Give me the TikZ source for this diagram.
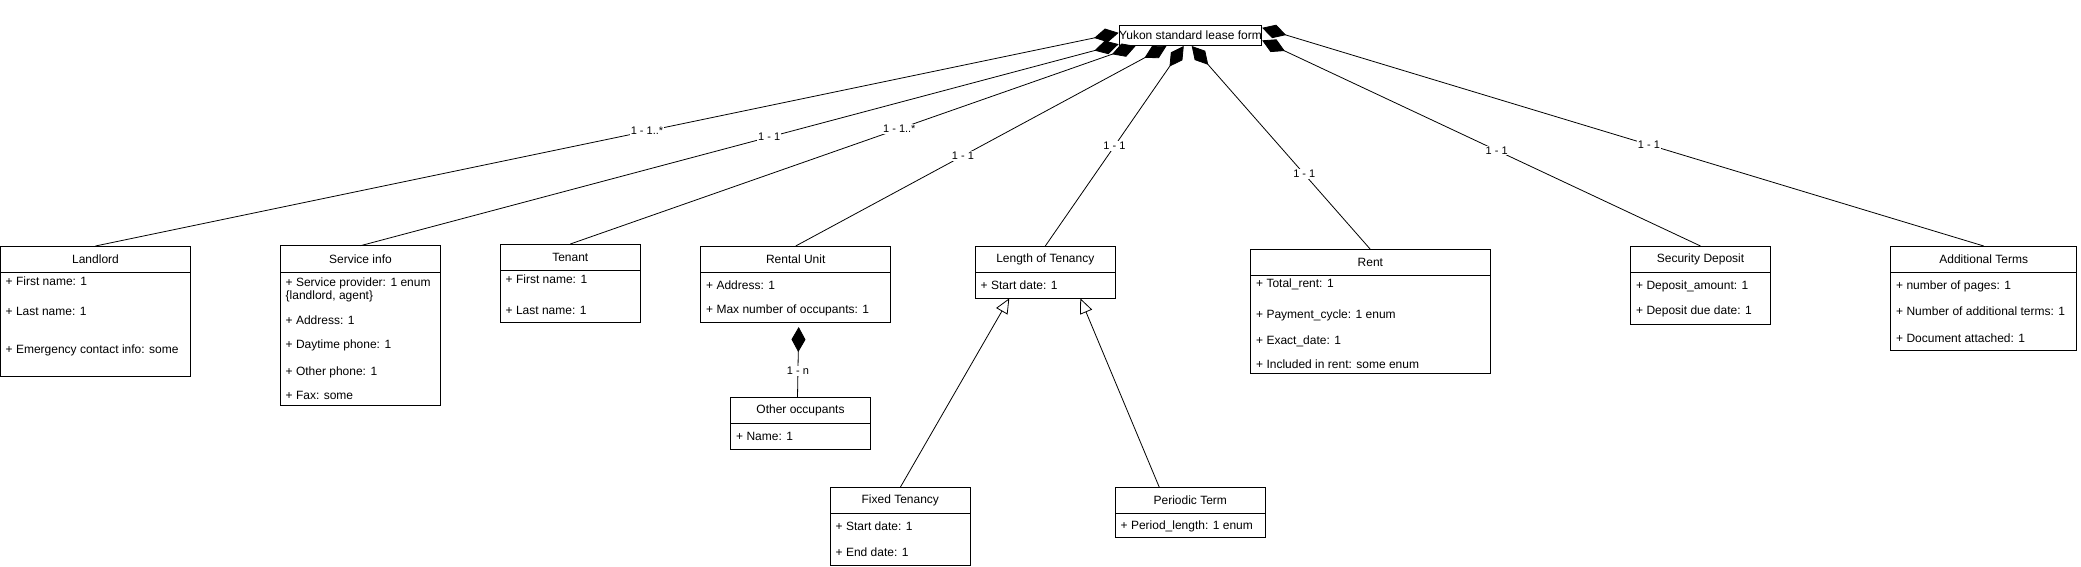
\documentclass[tikz,border=0pt]{standalone}
\usepackage{fontspec}
\setmainfont{Liberation Sans}
\usetikzlibrary{arrows.meta,positioning,calc}
\tikzset{
  formbox/.style={draw=black,fill=white,line width=0.8pt,inner sep=0pt,
    minimum width=141pt,minimum height=20.5pt,font=\fontsize{12}{14}\selectfont},
  classhead/.style={draw=black,fill=white,line width=0.8pt,anchor=north west,
    inner sep=0pt,outer sep=0pt,font=\fontsize{12}{14}\selectfont},
  classbody/.style={draw=black,fill=white,line width=0.8pt,inner sep=0pt,outer sep=0pt},
  attr/.style={anchor=west,inner sep=0pt,font=\fontsize{12}{14}\selectfont},
  mult/.style={fill=white,inner sep=1pt,font=\fontsize{11}{13}\selectfont},
  compose/.style={draw=black,line width=0.8pt,-{Diamond[length=25pt,width=14pt,fill=black]}},
  inherit/.style={draw=black,line width=0.8pt,-{Triangle[open,length=15pt,width=13pt,fill=white]}}
}
\begin{document}
\begin{tikzpicture}[x=1pt,y=-1pt]
  \useasboundingbox[fill=white] (0,0) rectangle (2081,566);

  \node[formbox] (form) at (1190.4,35.35) {Yukon standard lease form};

  % classes
  \node[classhead,minimum width=190pt,minimum height=26.3pt] (landlord) at (0.5,246) {Landlord};
  \node[classbody,minimum width=190pt,minimum height=103.7pt,below=0pt of landlord] (landlordb) {};
  \node[attr] at (5.5,281.7) {+ First name: 1};
  \node[attr] at (5.5,311.7) {+ Last name: 1};
  \node[attr] at (5.5,350) {+ Emergency contact info: some};

  \node[classhead,minimum width=160.4pt,minimum height=26.6pt] (service) at (280.3,245.7) {Service info};
  \node[classbody,minimum width=160.4pt,minimum height=133.4pt,below=0pt of service] (serviceb) {};
  \node[attr] at (285.5,283.3) {+ Service provider: 1 enum};
  \node[attr] at (285.5,296.7) {\{landlord, agent\}};
  \node[attr] at (285.5,320) {+ Address: 1};
  \node[attr] at (285.5,345.7) {+ Daytime phone: 1};
  \node[attr] at (285.5,372) {+ Other phone: 1};
  \node[attr] at (285.5,395.7) {+ Fax: some};

  \node[classhead,minimum width=140.6pt,minimum height=26pt] (tenant) at (500,244) {Tenant};
  \node[classbody,minimum width=140.6pt,minimum height=52pt,below=0pt of tenant] (tenantb) {};
  \node[attr] at (505.5,279) {+ First name: 1};
  \node[attr] at (505.5,310) {+ Last name: 1};

  \node[classhead,minimum width=190pt,minimum height=26.7pt] (rental) at (700.7,246) {Rental Unit};
  \node[classbody,minimum width=190pt,minimum height=49.3pt,below=0pt of rental] (rentalb) {};
  \node[attr] at (706,285) {+ Address: 1};
  \node[attr] at (706,310) {+ Max number of occupants: 1};

  \node[classhead,minimum width=139.6pt,minimum height=26pt] (occupants) at (730.7,397.3) {Other occupants};
  \node[classbody,minimum width=139.6pt,minimum height=26pt,below=0pt of occupants] (occupantsb) {};
  \node[attr] at (736,436.7) {+ Name: 1};

  \node[classhead,minimum width=140pt,minimum height=26.7pt] (length) at (975.3,246) {Length of Tenancy};
  \node[classbody,minimum width=140pt,minimum height=25.6pt,below=0pt of length] (lengthb) {};
  \node[attr] at (980.5,285.7) {+ Start date: 1};

  \node[classhead,minimum width=140pt,minimum height=26pt] (fixed) at (830.3,487.3) {Fixed Tenancy};
  \node[classbody,minimum width=140pt,minimum height=52pt,below=0pt of fixed] (fixedb) {};
  \node[attr] at (835.5,526.7) {+ Start date: 1};
  \node[attr] at (835.5,552.7) {+ End date: 1};

  \node[classhead,minimum width=150pt,minimum height=26pt] (periodic) at (1115.3,487.3) {Periodic Term};
  \node[classbody,minimum width=150pt,minimum height=24pt,below=0pt of periodic] (periodicb) {};
  \node[attr] at (1120.5,526) {+ Period\_length: 1 enum};

  \node[classhead,minimum width=239.3pt,minimum height=25.7pt] (rent) at (1250.7,249.3) {Rent};
  \node[classbody,minimum width=239.3pt,minimum height=98.3pt,below=0pt of rent] (rentb) {};
  \node[attr] at (1256,284.3) {+ Total\_rent: 1};
  \node[attr] at (1256,315) {+ Payment\_cycle: 1 enum};
  \node[attr] at (1256,341) {+ Exact\_date: 1};
  \node[attr] at (1256,364.3) {+ Included in rent: some enum};

  \node[classhead,minimum width=139.6pt,minimum height=26.7pt] (deposit) at (1630.7,246) {Security Deposit};
  \node[classbody,minimum width=139.6pt,minimum height=51.6pt,below=0pt of deposit] (depositb) {};
  \node[attr] at (1636,286) {+ Deposit\_amount: 1};
  \node[attr] at (1636,311.7) {+ Deposit due date: 1};

  \node[classhead,minimum width=186pt,minimum height=26.7pt] (terms) at (1890.7,246) {Additional Terms};
  \node[classbody,minimum width=186pt,minimum height=77.3pt,below=0pt of terms] (termsb) {};
  \node[attr] at (1896,286) {+ number of pages: 1};
  \node[attr] at (1896,311.7) {+ Number of additional terms: 1};
  \node[attr] at (1896,338.3) {+ Document attached: 1};

  % compositions to the form
  \draw[compose] (landlord.north) -- node[mult,pos=0.539] {1 - 1..*} (form.178);
  \draw[compose] (service.north) -- node[mult,pos=0.539] {1 - 1} (form.187);
  \draw[compose] (tenant.north) -- node[mult,pos=0.582] {1 - 1..*} (form.191.4);
  \draw[compose] (rental.north) -- node[mult,pos=0.451] {1 - 1} (form.204.8);
  \draw[compose] (length.north) -- node[mult,pos=0.499] {1 - 1} (form.238.3);
  \draw[compose] (rent.north) -- node[mult,pos=0.37] {1 - 1} (form.277.2);
  \draw[compose] (deposit.north) -- node[mult,pos=0.465] {1 - 1} (form.356.2);
  \draw[compose] (terms.north) -- node[mult,pos=0.464] {1 - 1} (form.6.8);

  \draw[compose] ($(occupants.north)+(-3,0)$) -- node[mult,pos=0.378] {1 - n} ($(rentalb.south)+(3,5)$);

  % generalisations
  \draw[inherit] (fixed.north) -- ($(lengthb.south)+(-36,0)$);
  \draw[inherit] ($(periodic.north)+(-31,0)$) -- ($(lengthb.south)+(35,0)$);
\end{tikzpicture}
\end{document}
